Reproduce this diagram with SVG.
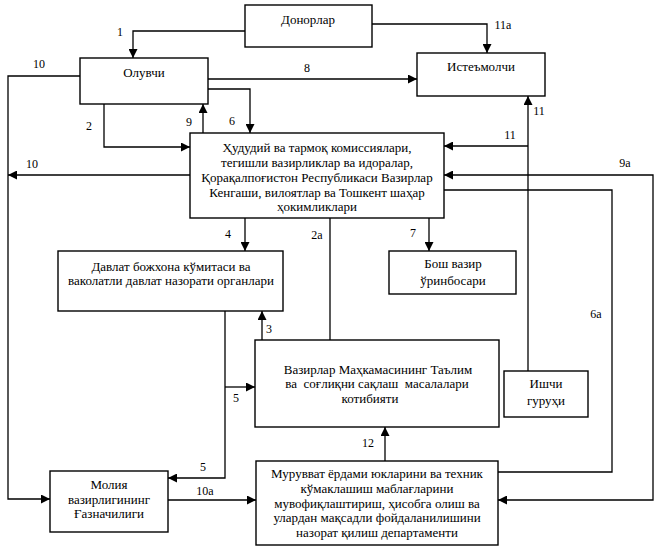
<svg xmlns="http://www.w3.org/2000/svg" width="661" height="550" viewBox="0 0 661 550">
<style>
.box{fill:#fff;stroke:#000;stroke-width:1.4}
.t{font-family:"Liberation Serif","Times New Roman",serif;font-size:13px;fill:#000;text-anchor:middle}
.lb{font-family:"Liberation Serif","Times New Roman",serif;font-size:12px;fill:#000;text-anchor:middle}
.c{fill:none;stroke:#000;stroke-width:1.3}
.a{marker-end:url(#ah)}
</style>
<defs>
<marker id="ah" viewBox="0 0 10 10" refX="10" refY="5" markerWidth="9" markerHeight="9" markerUnits="userSpaceOnUse" orient="auto-start-reverse">
<path d="M0,0 L10,5 L0,10 z" fill="#000"/>
</marker>
</defs>
<rect width="661" height="550" fill="#fff"/>
<g id="connectors">
<path class="c a" d="M245,31 H133 V58"/>
<path class="c a" d="M372,24 H487 V53"/>
<path class="c a" d="M208,79 H417"/>
<path class="c a" d="M208,89 H250 V133"/>
<path class="c a" d="M203,133 V104"/>
<path class="c a" d="M104,104 V147 H190"/>
<path class="c a" d="M80,76 H8 V499 H50"/>
<path class="c a" d="M190,175 H8"/>
<path class="c a" d="M245,218 V251"/>
<path class="c" d="M330,218 V340"/>
<path class="c a" d="M429,218 V251"/>
<path class="c a" d="M528,371 V96"/>
<path class="c a" d="M528,146 H444"/>
<path class="c a" d="M444,175 H653 V500 H498" marker-start="url(#ah)"/>
<path class="c" d="M444,190 H612 V472 H498"/>
<path class="c a" d="M262,340 V311"/>
<path class="c a" d="M225,311 V478 H168"/>
<path class="c a" d="M225,387 H255"/>
<path class="c a" d="M168,500 H256"/>
<path class="c a" d="M385,461 V427"/>
</g>
<g id="labels">
<text class="lb" x="120" y="36">1</text>
<text class="lb" x="39" y="68">10</text>
<text class="lb" x="307" y="72">8</text>
<text class="lb" x="89" y="130">2</text>
<text class="lb" x="189" y="126">9</text>
<text class="lb" x="232" y="125">6</text>
<text class="lb" x="503" y="29">11a</text>
<text class="lb" x="539" y="115">11</text>
<text class="lb" x="510" y="139">11</text>
<text class="lb" x="32" y="168">10</text>
<text class="lb" x="228" y="238">4</text>
<text class="lb" x="317" y="239">2a</text>
<text class="lb" x="413" y="237">7</text>
<text class="lb" x="625" y="167">9a</text>
<text class="lb" x="596" y="318">6a</text>
<text class="lb" x="269" y="333">3</text>
<text class="lb" x="236" y="402">5</text>
<text class="lb" x="203" y="471">5</text>
<text class="lb" x="205" y="495">10a</text>
<text class="lb" x="368" y="447">12</text>
</g>
<g id="donorlar">
<rect class="box" x="245" y="5" width="127" height="42"/>
<text class="t" x="308" y="24">Донорлар</text>
</g>
<g id="oluvchi">
<rect class="box" x="80" y="58" width="128" height="46"/>
<text class="t" x="144" y="77">Олувчи</text>
</g>
<g id="istemolchi">
<rect class="box" x="417" y="53" width="128" height="43"/>
<text class="t" x="481" y="71">Истеъмолчи</text>
</g>
<g id="hududiy">
<rect class="box" x="190" y="133" width="254" height="85"/>
<text class="t" x="317" y="152">Ҳудудий ва тармоқ комиссиялари,</text>
<text class="t" x="317" y="167">тегишли вазирликлар ва идоралар,</text>
<text class="t" x="317" y="182">Қорақалпоғистон Республикаси Вазирлар</text>
<text class="t" x="317" y="197">Кенгаши, вилоятлар ва Тошкент шаҳар</text>
<text class="t" x="317" y="211">ҳокимликлари</text>
</g>
<g id="bojxona">
<rect class="box" x="58" y="251" width="225" height="60"/>
<text class="t" x="171" y="271">Давлат божхона кўмитаси ва</text>
<text class="t" x="171" y="285">ваколатли давлат назорати органлари</text>
</g>
<g id="boshvazir">
<rect class="box" x="389" y="251" width="127" height="43"/>
<text class="t" x="453" y="268">Бош вазир</text>
<text class="t" x="453" y="285">ўринбосари</text>
</g>
<g id="mahkama">
<rect class="box" x="255" y="340" width="244" height="87"/>
<text class="t" x="378" y="374">Вазирлар Маҳкамасининг Таълим</text>
<text class="t" x="377" y="388" xml:space="preserve">ва  соғлиқни сақлаш  масалалари</text>
<text class="t" x="370" y="403">котибияти</text>
</g>
<g id="ishchi">
<rect class="box" x="504" y="371" width="84" height="46"/>
<text class="t" x="546" y="388">Ишчи</text>
<text class="t" x="546" y="405">гуруҳи</text>
</g>
<g id="moliya">
<rect class="box" x="50" y="471" width="118" height="61"/>
<text class="t" x="109" y="489">Молия</text>
<text class="t" x="109" y="504">вазирлигининг</text>
<text class="t" x="109" y="518">Ғазначилиги</text>
</g>
<g id="muruvvat">
<rect class="box" x="256" y="461" width="242" height="84"/>
<text class="t" x="377" y="478">Мурувват ёрдами юкларини ва техник</text>
<text class="t" x="377" y="493">кўмаклашиш маблағларини</text>
<text class="t" x="377" y="508">мувофиқлаштириш, ҳисобга олиш ва</text>
<text class="t" x="377" y="522">улардан мақсадли фойдаланилишини</text>
<text class="t" x="377" y="537">назорат қилиш департаменти</text>
</g>
</svg>
